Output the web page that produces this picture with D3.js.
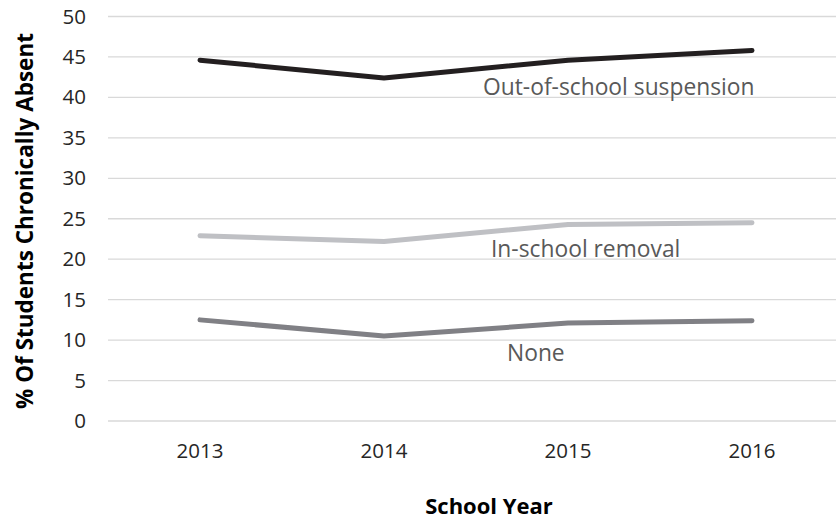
<!DOCTYPE html>
<html>
<head>
<meta charset="utf-8">
<script src="https://cdn.jsdelivr.net/npm/d3@7"></script>
<style>
  html, body { margin: 0; padding: 0; background: #fff; }
  svg { display: block; font-family: "Open Sans", "Noto Sans", sans-serif; }
</style>
</head>
<body>
<svg id="chart" width="836" height="520"></svg>
<script>
// School years on the x axis
const years = ["2013", "2014", "2015", "2016"];

// % of students chronically absent, by discipline type
const outOfSchool = [44.6, 42.4, 44.6, 45.8];
const inSchool    = [22.9, 22.2, 24.3, 24.5];
const noneVals    = [12.5, 10.5, 12.1, 12.4];

const seriesNames = ["Out-of-school suspension", "In-school removal", "None"];
const yTicks = [0, 5, 10, 15, 20, 25, 30, 35, 40, 45, 50];

const series = [
  { name: seriesNames[0], values: outOfSchool, color: "#231f20", lx: 483, ly: 95 },
  { name: seriesNames[1], values: inSchool,    color: "#bfc0c4", lx: 491, ly: 257 },
  { name: seriesNames[2], values: noneVals,    color: "#808085", lx: 507, ly: 361 }
];

const svg = d3.select("#chart");

const x = d3.scaleBand().domain(years).range([108, 844]);
const y = d3.scaleLinear().domain([0, 50]).range([421, 16.5]);

// Horizontal gridlines
svg.append("g")
  .selectAll("line")
  .data(yTicks)
  .join("line")
  .attr("x1", 108).attr("x2", 836)
  .attr("y1", d => y(d)).attr("y2", d => y(d))
  .attr("stroke", "#d9d9d9").attr("stroke-width", 1.3);

// Y axis tick labels
const yAxis = svg.append("g")
  .attr("transform", "translate(86,0)")
  .call(d3.axisLeft(y).tickValues(yTicks).tickSize(0).tickPadding(0));
yAxis.select(".domain").remove();
yAxis.selectAll("text")
  .attr("font-size", 20.5).attr("fill", "#262626")
  .attr("font-family", "'Open Sans', sans-serif");

// X axis tick labels
const xAxis = svg.append("g")
  .attr("transform", "translate(0,443)")
  .call(d3.axisBottom(x).tickSize(0).tickPadding(0));
xAxis.select(".domain").remove();
xAxis.selectAll("text")
  .attr("font-size", 20.5).attr("fill", "#262626")
  .attr("font-family", "'Open Sans', sans-serif");

// Series lines
const line = d3.line()
  .x((d, i) => x(years[i]) + x.bandwidth() / 2)
  .y(d => y(d));

svg.append("g")
  .selectAll("path")
  .data(series)
  .join("path")
  .attr("d", d => line(d.values))
  .attr("fill", "none")
  .attr("stroke", d => d.color)
  .attr("stroke-width", 5)
  .attr("stroke-linecap", "round")
  .attr("stroke-linejoin", "round");

// Direct series labels
svg.append("g")
  .selectAll("text")
  .data(series)
  .join("text")
  .attr("x", d => d.lx).attr("y", d => d.ly)
  .attr("font-size", 22.8)
  .attr("fill", "#595959")
  .text(d => d.name);

// Axis titles
svg.append("text")
  .attr("transform", "translate(33,221) rotate(-90)")
  .attr("text-anchor", "middle")
  .attr("font-size", 22.5).attr("font-weight", "bold")
  .attr("fill", "#000")
  .text("% Of Students Chronically Absent");

svg.append("text")
  .attr("x", 489).attr("y", 514)
  .attr("text-anchor", "middle")
  .attr("font-size", 22).attr("font-weight", "bold")
  .attr("fill", "#000")
  .text("School Year");
</script>
</body>
</html>
